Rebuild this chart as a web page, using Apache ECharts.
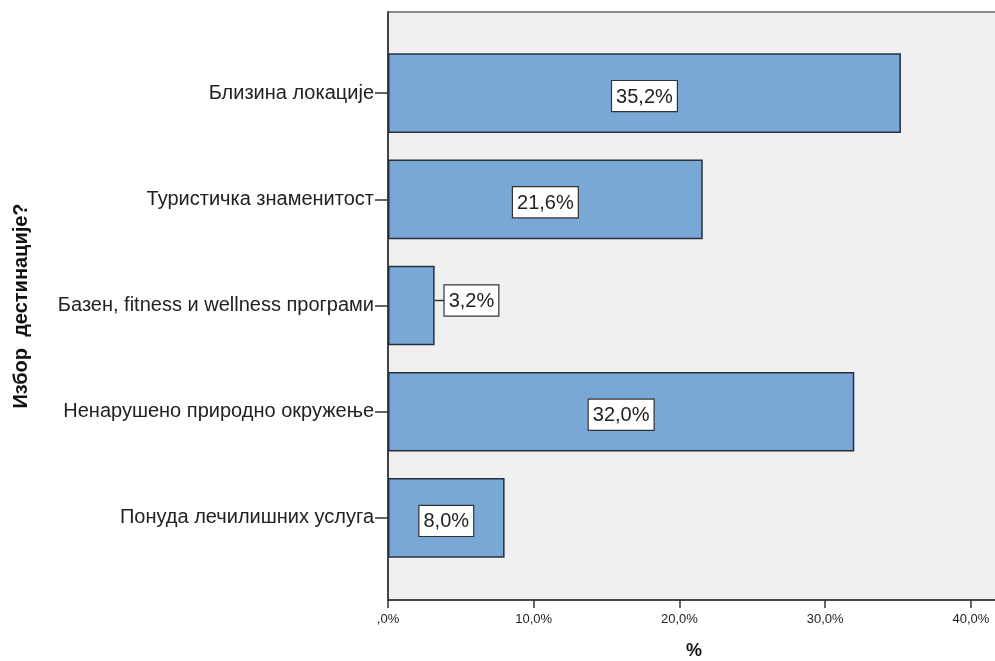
<!DOCTYPE html>
<html>
<head>
<meta charset="utf-8">
<script src="https://cdn.jsdelivr.net/npm/echarts@6/dist/echarts.min.js"></script>
<style>
  html, body { margin: 0; padding: 0; background: #ffffff; }
  #chart { width: 995px; height: 661px; }
</style>
</head>
<body>
<div id="chart"></div>
<script>
// Destination choice, share of respondents (%)
const categories = [
  'Близина локације',
  'Туристичка знаменитост',
  'Базен, fitness и wellness програми',
  'Ненарушено природно окружење',
  'Понуда лечилишних услуга'
];
const percentValues = [35.2, 21.6, 3.2, 32.0, 8.0];
const tickLabels = [',0%', '10,0%', '20,0%', '30,0%', '40,0%'];
const axisTitleY = 'Избор  дестинације?';
const axisTitleX = '%';

const FONT = '"Liberation Sans", Arial, sans-serif';
const X_MAX = 42;

function fmtPct(v) {
  return v.toFixed(1).replace('.', ',') + '%';
}

// Value box shared by every bar label
const boxStyle = {
  fontFamily: FONT,
  fontSize: 20,
  color: '#222',
  backgroundColor: '#ffffff',
  borderColor: '#333',
  borderWidth: 1.2,
  padding: [6, 4, 4, 4],
  lineHeight: 23
};

// Narrow bars carry their label outside, led in by a short guide stroke
const barData = percentValues.map(v => {
  const small = v < 5;
  return {
    value: v,
    label: small
      ? {
          position: 'right', distance: 0, offset: [0, -5],
          formatter: p => '{guide|}{box|' + fmtPct(p.value) + '}'
        }
      : {
          position: 'inside', offset: [0, 3],
          formatter: p => '{box|' + fmtPct(p.value) + '}'
        }
  };
});

const chart = echarts.init(document.getElementById('chart'), null, { renderer: 'canvas' });

chart.setOption({
  animation: false,
  grid: [
    // plot frame
    {
      left: 388, top: 12, right: -5, bottom: 61,
      outerBoundsMode: 'none', containLabel: false,
      show: true, backgroundColor: '#f0f0f0',
      borderColor: '#8a8a8a', borderWidth: 2
    },
    // bar band area (inset inside the frame)
    {
      left: 388, top: 40, right: -5, bottom: 90,
      outerBoundsMode: 'none', containLabel: false
    }
  ],
  xAxis: [
    {
      gridIndex: 0, type: 'value', min: 0, max: X_MAX, interval: 10,
      name: axisTitleX, nameLocation: 'middle', nameGap: 42,
      nameTextStyle: { fontFamily: FONT, fontSize: 18, fontWeight: 'bold', color: '#111' },
      axisLine: { show: true, lineStyle: { color: '#333', width: 1.6 } },
      axisTick: { show: true, length: 8, lineStyle: { color: '#333', width: 1.5 } },
      axisLabel: {
        fontFamily: FONT, fontSize: 13, color: '#222', margin: 13,
        showMaxLabel: false,
        formatter: v => tickLabels[Math.round(v / 10)] || ''
      },
      splitLine: { show: false }
    },
    {
      gridIndex: 1, type: 'value', min: 0, max: X_MAX,
      show: false
    }
  ],
  yAxis: [
    {
      gridIndex: 0, type: 'value', min: 0, max: 1,
      name: axisTitleY, nameLocation: 'middle', nameRotate: 90, nameGap: 357,
      nameTextStyle: { fontFamily: FONT, fontSize: 20, fontWeight: 'bold', color: '#111' },
      axisLine: { show: true, lineStyle: { color: '#333', width: 1.6 } },
      axisTick: { show: false },
      axisLabel: { show: false },
      splitLine: { show: false }
    },
    {
      gridIndex: 1, type: 'category', data: categories, inverse: true,
      axisLine: { show: false },
      axisTick: { show: true, alignWithLabel: true, length: 13, lineStyle: { color: '#333', width: 1.5 } },
      axisLabel: { fontFamily: FONT, fontSize: 20, color: '#222', margin: 14 }
    }
  ],
  series: [
    {
      type: 'bar',
      xAxisIndex: 1,
      yAxisIndex: 1,
      data: barData,
      barCategoryGap: '25%',
      itemStyle: { color: '#7aa8d6', borderColor: '#26303d', borderWidth: 1.5 },
      label: {
        show: true,
        rich: {
          box: boxStyle,
          guide: { width: 10, height: 1.5, backgroundColor: '#333' }
        }
      }
    }
  ]
});
</script>
</body>
</html>
